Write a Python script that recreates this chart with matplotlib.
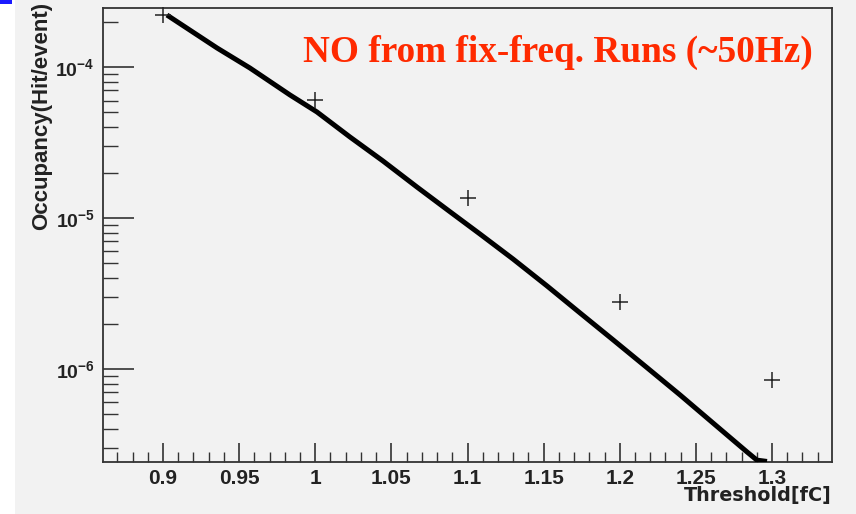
import matplotlib
matplotlib.use("Agg")
import matplotlib.pyplot as plt
from matplotlib.ticker import FixedLocator, NullFormatter
import numpy as np

# Data
point_x = [0.9, 1.0, 1.1, 1.2, 1.3]
point_y = [2.21e-4, 6.05e-5, 1.355e-5, 2.78e-6, 8.5e-7]

curve_x = [0.9026, 0.9355, 0.9571, 0.9834, 1.0011, 1.0228, 1.0445, 1.0668, 1.0885,
           1.1082, 1.1299, 1.1522, 1.1739, 1.1956, 1.2179, 1.2396, 1.2612, 1.2836,
           1.2901, 1.2967]
curve_y = [2.21e-4, 1.337e-4, 9.85e-5, 6.53e-5, 5.04e-5, 3.44e-5, 2.385e-5, 1.604e-5, 1.10e-5,
           7.83e-6, 5.35e-6, 3.55e-6, 2.35e-6, 1.56e-6, 1.02e-6, 6.73e-7, 4.39e-7, 2.82e-7,
           2.49e-7, 2.44e-7]

x_ticks = [0.9, 0.95, 1.0, 1.05, 1.1, 1.15, 1.2, 1.25, 1.3]
x_ticklabels = ["0.9", "0.95", "1", "1.05", "1.1", "1.15", "1.2", "1.25", "1.3"]
y_ticks = [1e-6, 1e-5, 1e-4]
y_ticklabels = [r"$10^{-6}$", r"$10^{-5}$", r"$10^{-4}$"]

title_text = "NO from fix-freq. Runs (~50Hz)"
xlabel = "Threshold[fC]"
ylabel = "Occupancy(Hit/event)"

plt.rcParams['mathtext.fontset'] = 'custom'
plt.rcParams['mathtext.rm'] = 'Liberation Sans:bold'
plt.rcParams['mathtext.it'] = 'Liberation Sans:bold'
plt.rcParams['mathtext.bf'] = 'Liberation Sans:bold'

bg = '#f2f2f2'
fig = plt.figure(figsize=(8.56, 5.14), dpi=100, facecolor='white')
# gray panel
fig.patches.append(plt.Rectangle((15/856, 0), 1 - 15/856, 1, transform=fig.transFigure,
                                 facecolor=bg, edgecolor='none', zorder=-10))
fig.patches.append(plt.Rectangle((0, 1 - 4/514), 12/856, 4/514, transform=fig.transFigure,
                                 facecolor='#1a1aff', edgecolor='none', zorder=-9))

ax = fig.add_axes([103/856, 52/514, (832-103)/856, (462-8)/514])
ax.set_facecolor(bg)
ax.set_yscale('log')
ax.set_xlim(0.8606, 1.3394)
ax.set_ylim(2.42e-7, 2.46e-4)

ax.plot(curve_x, curve_y, color='black', lw=3.6, solid_capstyle='butt',
        solid_joinstyle='round', zorder=3)
ax.plot(point_x, point_y, linestyle='none', marker='+', ms=11, mew=1.1,
        color='#222222', zorder=4, clip_on=False)

ax.xaxis.set_major_locator(FixedLocator(x_ticks))
ax.set_xticklabels(x_ticklabels)
ax.xaxis.set_minor_locator(FixedLocator(np.round(np.arange(0.87, 1.34, 0.01), 3)))
ax.yaxis.set_major_locator(FixedLocator(y_ticks))
ax.set_yticklabels(y_ticklabels)
minors = [m * 10.0**e for e in range(-7, -3) for m in range(2, 10)]
ax.yaxis.set_minor_locator(FixedLocator(minors))
ax.yaxis.set_minor_formatter(NullFormatter())

for s in ax.spines.values():
    s.set_color('#333333')
    s.set_linewidth(1.3)

ax.tick_params(axis='x', which='major', direction='in', length=14, width=1.2, color='#333333',
               labelsize=15, pad=5, top=False)
ax.tick_params(axis='x', which='minor', direction='in', length=7, width=1.0, color='#333333', top=False)
ax.tick_params(axis='y', which='major', direction='in', length=22, width=1.2, color='#333333',
               labelsize=14, pad=6, right=False)
ax.tick_params(axis='y', which='minor', direction='in', length=11, width=1.0, color='#333333', right=False)
for lab in ax.get_xticklabels():
    lab.set_fontfamily('Liberation Sans')
    lab.set_fontweight('bold')
    lab.set_color('#222222')
for lab in ax.get_yticklabels():
    lab.set_color('#222222')

fig.text(832/856, 1 - 496/514, xlabel, ha='right', va='center', fontsize=13.8,
         fontfamily='DejaVu Sans', fontweight='bold', color='#222222')
fig.text(42/856, 1 - 2/514, ylabel, ha='center', va='top', rotation=90, fontsize=16,
         fontfamily='Liberation Sans', fontweight='bold', color='#222222')

fig.text(558/856, 1 - 52/514, title_text, ha='center', va='center', fontsize=26.8,
         fontfamily='Liberation Serif', fontweight='bold', color='#ff2a00')

fig.savefig('out.png', dpi=100, facecolor=fig.get_facecolor())
